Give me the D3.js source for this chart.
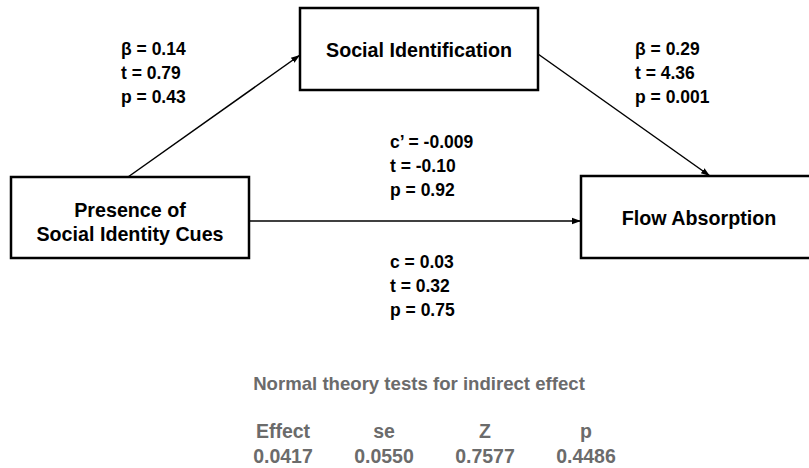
<!DOCTYPE html>
<html>
<head>
<script src="https://d3js.org/d3.v7.min.js"></script>
<style>
body { margin: 0; background: #fff; }
text { font-family: "Liberation Sans", Arial, sans-serif; font-weight: bold; }
.box { fill: #fff; stroke: #000; stroke-width: 2.5px; }
.path { stroke: #000; stroke-width: 1.5px; fill: none; }
.stat { font-size: 17.5px; fill: #000; }
.node { font-size: 19.7px; fill: #000; }
.gray { fill: #6b6b6b; }
.title { font-size: 18.6px; }
.cell { font-size: 19.5px; }
</style>
</head>
<body>
<svg id="chart" width="809" height="468"></svg>
<script>
// nodes
var nodeNames = ["Presence of\nSocial Identity Cues", "Social Identification", "Flow Absorption"];
// path coefficients: a, b, c', c
var pathNames = ["β", "β", "c’", "c"];
var pathCoef = ["0.14", "0.29", "-0.009", "0.03"];
var pathT = ["0.79", "4.36", "-0.10", "0.32"];
var pathP = ["0.43", "0.001", "0.92", "0.75"];
// indirect effect table
var tableTitle = "Normal theory tests for indirect effect";
var tableHeads = ["Effect", "se", "Z", "p"];
var tableVals = ["0.0417", "0.0550", "0.7577", "0.4486"];

var svg = d3.select("#chart");

svg.append("defs").append("marker")
    .attr("id", "arrow")
    .attr("viewBox", "0 0 10 10")
    .attr("refX", 10).attr("refY", 5)
    .attr("markerWidth", 6).attr("markerHeight", 6)
    .attr("orient", "auto")
    .append("path").attr("d", "M0,1.5L10,5L0,8.5Z").attr("fill", "#000");

// box layout
var boxes = [
    {x: 11, y: 177, w: 238, h: 81},
    {x: 300, y: 8, w: 238, h: 82},
    {x: 581, y: 176, w: 236, h: 82}
];

var lines = [
    [[128, 177], [300, 55]],
    [[538, 54], [710, 176]],
    [[249, 221], [581, 221]]
];

var line = d3.line();
svg.selectAll(".path").data(lines).enter().append("path")
    .attr("class", "path")
    .attr("d", line)
    .attr("marker-end", "url(#arrow)");

var g = svg.selectAll(".nodeg").data(nodeNames).enter().append("g").attr("class", "nodeg");
g.append("rect").attr("class", "box")
    .attr("x", function(d, i) { return boxes[i].x; })
    .attr("y", function(d, i) { return boxes[i].y; })
    .attr("width", function(d, i) { return boxes[i].w; })
    .attr("height", function(d, i) { return boxes[i].h; });
g.each(function(d, i) {
    var b = boxes[i], parts = d.split("\n");
    var t = d3.select(this).append("text").attr("class", "node").attr("text-anchor", "middle");
    parts.forEach(function(p, k) {
        t.append("tspan")
            .attr("x", i == 2 ? 699 : b.x + b.w / 2)
            .attr("y", b.y + b.h / 2 + 8 - (parts.length - 1) * 8.5 + k * 24)
            .text(p);
    });
});

// coefficient labels
var labelPos = [[121, 55], [635, 54.5], [390, 147.5], [390, 267.5]];
pathNames.forEach(function(n, i) {
    var t = svg.append("text").attr("class", "stat");
    [n + " = " + pathCoef[i], "t = " + pathT[i], "p = " + pathP[i]].forEach(function(s, k) {
        t.append("tspan").attr("x", labelPos[i][0]).attr("y", labelPos[i][1] + k * 24).text(s);
    });
});

// indirect effect table
svg.append("text").attr("class", "gray title").attr("x", 419).attr("y", 390)
    .attr("text-anchor", "middle").text(tableTitle);

var x = d3.scalePoint().domain(tableHeads).range([283, 586]);
svg.selectAll(".head").data(tableHeads).enter().append("text")
    .attr("class", "gray cell head").attr("text-anchor", "middle")
    .attr("x", function(d) { return x(d); }).attr("y", 438).text(function(d) { return d; });
svg.selectAll(".val").data(tableVals).enter().append("text")
    .attr("class", "gray cell val").attr("text-anchor", "middle")
    .attr("x", function(d, i) { return x(tableHeads[i]); }).attr("y", 463).text(function(d) { return d; });
</script>
</body>
</html>
